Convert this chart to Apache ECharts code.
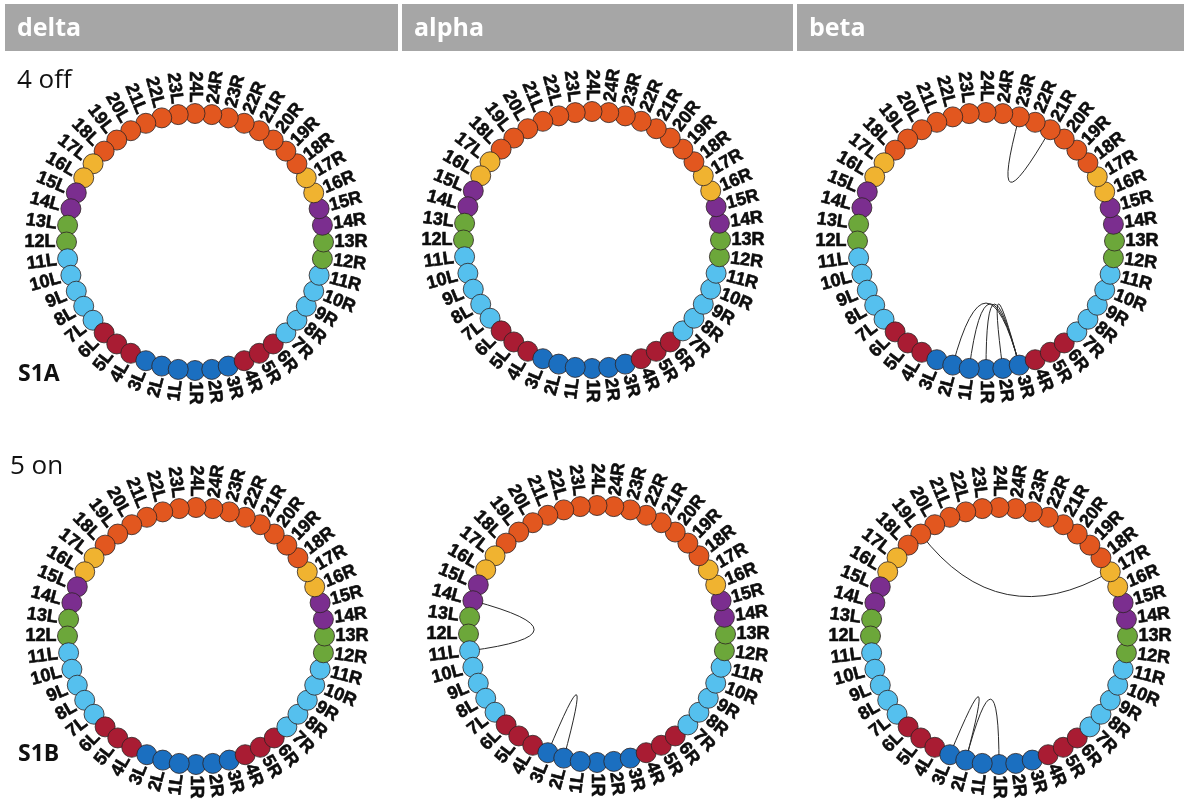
<!DOCTYPE html>
<html>
<head>
<meta charset="utf-8">
<script src="https://cdn.jsdelivr.net/npm/echarts@6/dist/echarts.min.js"></script>
<style>
  html, body { margin: 0; padding: 0; background: #ffffff; }
  #chart { width: 1184px; height: 802px; }
</style>
</head>
<body>
<div id="chart"></div>
<script>
// Column and row headings
const columnTitles = ['delta', 'alpha', 'beta'];
const rowTitles = ['4 off', '5 on'];
const rowTags = ['S1A', 'S1B'];

// Segment names on each side, counted from the bottom of the ring
const rightNodes = ['1R', '2R', '3R', '4R', '5R', '6R', '7R', '8R', '9R', '10R', '11R', '12R',
                    '13R', '14R', '15R', '16R', '17R', '18R', '19R', '20R', '21R', '22R', '23R', '24R'];
const leftNodes = ['1L', '2L', '3L', '4L', '5L', '6L', '7L', '8L', '9L', '10L', '11L', '12L',
                   '13L', '14L', '15L', '16L', '17L', '18L', '19L', '20L', '21L', '22L', '23L', '24L'];

// Class of segments 1..24 (same on both sides)
const segmentClass = ['a', 'a', 'a', 'b', 'b', 'b', 'c', 'c', 'c', 'c', 'c', 'd',
                      'd', 'e', 'e', 'f', 'f', 'g', 'g', 'g', 'g', 'g', 'g', 'g'];
const classColors = {
  a: '#1b6fc0',
  b: '#a91c33',
  c: '#55c0ee',
  d: '#6ca73a',
  e: '#7b2e8f',
  f: '#f0b330',
  g: '#e2571f'
};

// Connections drawn inside each ring
const linksDeltaS1A = [];
const linksAlphaS1A = [];
const linksBetaS1A = [['23R', '21R'], ['2L', '3R'], ['1L', '3R'], ['1R', '3R'], ['2R', '3R']];
const linksDeltaS1B = [];
const linksAlphaS1B = [['14L', '11L'], ['3L', '2L']];
const linksBetaS1B = [['19L', '17R'], ['3L', '2L'], ['2L', '1R']];

// ---- layout ----
const NODE_R = 128.5;     // ring radius (px, radius axis is 1:1 with pixels)
const LABEL_R = 139.5;    // where the labels start / end
const AXIS_MAX = 150;
const panelCenters = [[195, 242], [592, 240], [986, 241], [196, 636], [597, 634], [999, 636]];
const panelLinks = [linksDeltaS1A, linksAlphaS1A, linksBetaS1A, linksDeltaS1B, linksAlphaS1B, linksBetaS1B];

// Ring order running counter-clockwise from the bottom: 1R .. 24R, 24L .. 1L
const ring = rightNodes.concat(leftNodes.slice().reverse());
const colorOf = name => classColors[segmentClass[parseInt(name, 10) - 1]];

const hidden = { show: false };
const polar = [], angleAxis = [], radiusAxis = [], series = [];

panelCenters.forEach((c, k) => {
  polar.push({ center: c, radius: AXIS_MAX });
  angleAxis.push({
    polarIndex: k, type: 'category', data: ring, boundaryGap: true,
    startAngle: 270 - 360 / ring.length / 2, clockwise: false,
    axisLine: hidden, axisTick: hidden, axisLabel: hidden, splitLine: hidden, splitArea: hidden
  });
  radiusAxis.push({
    polarIndex: k, type: 'value', min: 0, max: AXIS_MAX,
    axisLine: hidden, axisTick: hidden, axisLabel: hidden, splitLine: hidden, splitArea: hidden
  });

  // connections: quadratic curves pulled through the ring centre
  series.push({
    type: 'custom', coordinateSystem: 'polar', polarIndex: k, z: 1, silent: true,
    data: panelLinks[k].map(([a, b]) => [ring.indexOf(a), ring.indexOf(b)]),
    renderItem(params, api) {
      const p1 = api.coord([NODE_R, api.value(0)]);
      const p2 = api.coord([NODE_R, api.value(1)]);
      const o = api.coord([0, 0]);
      return {
        type: 'bezierCurve',
        shape: { x1: p1[0], y1: p1[1], x2: p2[0], y2: p2[1], cpx1: o[0], cpy1: o[1] },
        style: { fill: 'none', stroke: '#2a2a2a', lineWidth: 1 }
      };
    },
    encode: { radius: 0, angle: 1 }
  });

  // segment nodes
  series.push({
    type: 'scatter', coordinateSystem: 'polar', polarIndex: k, z: 3, silent: true,
    symbol: 'circle', symbolSize: 20,
    itemStyle: { borderColor: 'rgba(45,35,35,0.8)', borderWidth: 1, opacity: 1 },
    data: ring.map((name, i) => ({ value: [NODE_R, i], itemStyle: { color: colorOf(name) } }))
  });

  // radial labels
  series.push({
    type: 'custom', coordinateSystem: 'polar', polarIndex: k, z: 4, silent: true,
    data: ring.map((name, i) => [LABEL_R, i]),
    encode: { radius: 0, angle: 1 },
    renderItem(params, api) {
      const name = ring[params.dataIndex];
      const p = api.coord([api.value(0), api.value(1)]);
      const o = api.coord([0, api.value(1)]);
      const ang = Math.atan2(o[1] - p[1], p[0] - o[0]);
      const right = name.endsWith('R');
      return {
        type: 'text', x: p[0], y: p[1],
        rotation: right ? ang : ang - Math.PI,
        style: {
          text: name, x: 0, y: 0,
          align: right ? 'left' : 'right', verticalAlign: 'middle',
          fontFamily: '"Liberation Sans", Arial, sans-serif', fontWeight: 'bold', fontSize: 18,
          fill: '#0d0d0d', stroke: '#0d0d0d', lineWidth: 0.6
        }
      };
    }
  });
});

// header strip and row titles
const headerX = [[5, 398], [402, 793], [797, 1184]];
const graphic = [];
columnTitles.forEach((t, i) => {
  graphic.push({
    type: 'rect', shape: { x: headerX[i][0], y: 4, width: headerX[i][1] - headerX[i][0], height: 47 },
    style: { fill: '#a6a6a6' }, silent: true
  });
  graphic.push({
    type: 'text', x: headerX[i][0] + 12, y: 29, silent: true,
    style: { text: t, fill: '#ffffff', font: 'bold 25px "Open Sans", sans-serif', verticalAlign: 'middle' }
  });
});
const rowTitlePos = [[17, 81], [10, 467]];
const rowTagPos = [[18, 374], [18, 754]];
rowTitles.forEach((t, i) => {
  graphic.push({
    type: 'text', x: rowTitlePos[i][0], y: rowTitlePos[i][1], silent: true,
    style: { text: t, fill: '#111111', font: '26px "Open Sans", sans-serif', verticalAlign: 'middle' }
  });
  graphic.push({
    type: 'text', x: rowTagPos[i][0], y: rowTagPos[i][1], silent: true,
    style: { text: rowTags[i], fill: '#111111', font: 'bold 23px "Open Sans", sans-serif', verticalAlign: 'middle' }
  });
});

const chart = echarts.init(document.getElementById('chart'), null, { renderer: 'canvas' });
chart.setOption({
  animation: false,
  backgroundColor: '#ffffff',
  polar, angleAxis, radiusAxis, series, graphic
});
</script>
</body>
</html>
